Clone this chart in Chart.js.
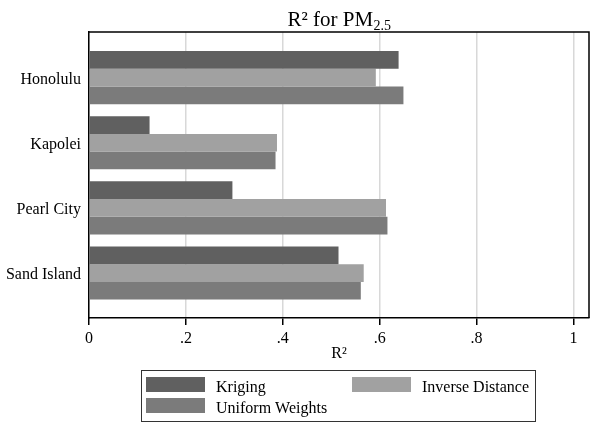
<!DOCTYPE html>
<html>
<head>
<meta charset="utf-8">
<script src="https://cdn.jsdelivr.net/npm/chart.js@4/dist/chart.umd.min.js"></script>
<style>
  body { margin: 0; background: #fff; }
  #wrap { width: 591px; height: 422px; position: relative; }
</style>
</head>
<body>
<div id="wrap"><canvas id="chart"></canvas></div>
<script>
// monitoring sites and R-squared per interpolation method
const sites = ['Honolulu', 'Kapolei', 'Pearl City', 'Sand Island'];
const kriging = [0.639, 0.125, 0.296, 0.515];
const inverseDistance = [0.592, 0.388, 0.613, 0.567];
const uniformWeights = [0.649, 0.385, 0.616, 0.561];
const xTicks = [0, 0.2, 0.4, 0.6, 0.8, 1];

const SERIF = "'Liberation Serif', 'Times New Roman', serif";

// sites sit at 0..3 on a linear axis so the outer margins can be set freely
const toPoints = vals => vals.map((v, i) => ({ x: v, y: i }));

const fmtTick = v => {
  if (v === 0) return '0';
  if (Math.abs(v - 1) < 1e-9) return '1';
  return v.toFixed(1).replace(/^0/, '');
};

// frame, title with sub/superscript and the boxed legend
const decor = {
  id: 'decor',
  afterDraw(chart) {
    const { ctx, chartArea: a } = chart;
    ctx.save();

    // top and right edges of the plot box
    ctx.strokeStyle = '#000';
    ctx.lineWidth = 1.5;
    ctx.beginPath();
    ctx.moveTo(a.left, a.top);
    ctx.lineTo(a.right, a.top);
    ctx.lineTo(a.right, a.bottom);
    ctx.stroke();

    // title: "R² for PM" + subscript "2.5"
    ctx.fillStyle = '#000';
    ctx.textBaseline = 'alphabetic';
    ctx.textAlign = 'left';
    const main = 'R² for PM', sub = '2.5';
    ctx.font = '21px ' + SERIF;
    const wMain = ctx.measureText(main).width;
    ctx.font = '14px ' + SERIF;
    const wSub = ctx.measureText(sub).width;
    const tx = (a.left + a.right) / 2 - (wMain + wSub) / 2;
    ctx.font = '21px ' + SERIF;
    ctx.fillText(main, tx, 25.5);
    ctx.font = '14px ' + SERIF;
    ctx.fillText(sub, tx + wMain + 0.5, 29.5);

    // legend
    const box = { l: 141, t: 370, r: 535, b: 421 };
    ctx.strokeStyle = '#333';
    ctx.lineWidth = 1;
    ctx.strokeRect(box.l + 0.5, box.t + 0.5, box.r - box.l, box.b - box.t);
    const slots = [
      { x: 146, y: 377 },
      { x: 352, y: 377 },
      { x: 146, y: 398 }
    ];
    ctx.font = '16px ' + SERIF;
    chart.data.datasets.forEach((ds, i) => {
      const s = slots[i];
      ctx.fillStyle = ds.backgroundColor;
      ctx.fillRect(s.x, s.y, 59, 15);
      ctx.fillStyle = '#000';
      ctx.fillText(ds.label, s.x + 70, s.y + 14.5);
    });

    ctx.restore();
  }
};

new Chart(document.getElementById('chart'), {
  type: 'bar',
  data: {
    datasets: [
      { label: 'Kriging', data: toPoints(kriging), backgroundColor: '#606060' },
      { label: 'Inverse Distance', data: toPoints(inverseDistance), backgroundColor: '#a1a1a1' },
      { label: 'Uniform Weights', data: toPoints(uniformWeights), backgroundColor: '#7b7b7b' }
    ]
  },
  options: {
    indexAxis: 'y',
    responsive: true,
    maintainAspectRatio: false,
    animation: false,
    categoryPercentage: 0.815,
    barPercentage: 1,
    layout: { padding: { top: 32, right: 2, left: 0, bottom: 0 } },
    plugins: {
      legend: { display: false },
      title: { display: false },
      tooltip: { enabled: false }
    },
    scales: {
      x: {
        type: 'linear',
        min: 0,
        max: 1.032,
        afterFit: s => { s.height = 104; },
        afterBuildTicks: s => { s.ticks = xTicks.map(v => ({ value: v })); },
        ticks: {
          includeBounds: false,
          color: '#000',
          padding: 4,
          font: { family: SERIF, size: 16 },
          callback: v => fmtTick(v)
        },
        grid: {
          color: '#d8d8d8',
          lineWidth: 1.5,
          tickColor: '#000',
          tickWidth: 1.5,
          tickLength: 7
        },
        border: { color: '#000', width: 1.5 },
        title: {
          display: true,
          text: 'R²',
          color: '#000',
          font: { family: SERIF, size: 16 },
          padding: { top: 0, bottom: 59 }
        }
      },
      y: {
        type: 'linear',
        offset: false,
        reverse: true,
        min: -0.70,
        max: 3.69,
        afterFit: s => { s.width = 89; },
        afterBuildTicks: s => { s.ticks = sites.map((_, i) => ({ value: i })); },
        ticks: {
          color: '#000',
          padding: 0,
          labelOffset: 2,
          autoSkip: false,
          font: { family: SERIF, size: 16 },
          callback: v => sites[v] ?? ''
        },
        grid: { display: false, offset: false },
        border: { color: '#000', width: 1.5 }
      }
    }
  },
  plugins: [decor]
});
</script>
</body>
</html>
